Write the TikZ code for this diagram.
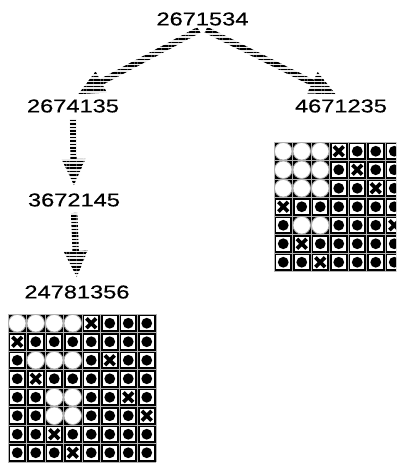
\documentclass[tikz,border=0pt]{standalone}
\usepackage{fontspec}
\setmainfont{Liberation Sans}
\newfontfamily\numfont[FakeBold=0.4]{Liberation Sans}
\usetikzlibrary{calc,patterns.meta}

\newcommand\wide[1]{\scalebox{1.27}[1]{#1}}
% striped arrow from node #1 to node #2
\newcommand\hatcharrow[2]{%
  \coordinate (hs) at ($(#1)!2pt!(#2)$);
  \coordinate (ht) at ($(#2)!3pt!(#1)$);
  \coordinate (hb) at ($(ht)!13pt!(hs)$);
  \fill[hatch] ($(hs)!1.6pt!90:(ht)$) -- ($(hb)!1.6pt!-90:(hs)$) -- ($(hb)!6pt!-90:(hs)$) -- (ht)
    -- ($(hb)!6pt!90:(hs)$) -- ($(hb)!1.6pt!90:(hs)$) -- ($(hs)!1.6pt!-90:(ht)$) -- cycle;}

\begin{document}
\begin{tikzpicture}[x=0.5pt, y=-0.5pt,
    num/.style={font=\numfont\fontsize{9.3}{11}\selectfont, inner sep=1pt},
    hatch/.style={fill=gray!15, postaction={pattern={Lines[angle=0, distance=1.7pt, line width=0.8pt]}, pattern color=black}},
    ring/.style={fill=white, draw=gray!70, line width=0.4pt},
    cross/.style={line width=1.8pt},
    gridline/.style={gray!60, line width=0.4pt}]

  \useasboundingbox (0,0) rectangle (396,464);
  \clip (0,0) rectangle (396,464);

  \node[num] (root)  at (202.5,19) {\wide{2671534}};
  \node[num] (left)  at (73,106)   {\wide{2674135}};
  \node[num] (right) at (341,106)  {\wide{4671235}};
  \node[num] (mid)   at (74,200)   {\wide{3672145}};
  \node[num] (leaf)  at (77,292)   {\wide{24781356}};

  \foreach \a/\b in {root.south/left.north, root.south/right.north, left.south/mid.north, mid.south/leaf.north}
    \hatcharrow{\a}{\b};

  % board under 24781356
  \begin{scope}[shift={(8,314)}]
    \foreach \row [count=\j from 0] in {{O,O,O,O,X,D,D,D}, {X,D,D,D,D,D,D,D},
        {D,O,O,O,D,X,D,D}, {D,X,D,D,D,D,D,D}, {D,D,O,O,D,D,X,D},
        {D,D,O,O,D,D,D,X}, {D,D,X,D,D,D,D,D}, {D,D,D,X,D,D,D,D}}
      \foreach \c [count=\i from 0] in \row {
        \coordinate (m) at ({\i*18.5+9.25},{\j*18.5+9.25});
        \fill (m) +(-9.25,-9.25) rectangle +(9.25,9.25);
        \if\c O \fill[ring] (m) circle[radius=4.4pt];
        \else \fill[white] (m) +(-6.8,-6.8) rectangle +(6.8,6.8);
          \if\c X \draw[cross] (m) +(-4.8,-4.8) -- +(4.8,4.8) (m) +(-4.8,4.8) -- +(4.8,-4.8);
          \else \fill (m) circle[radius=2.7pt]; \fi
        \fi
      }
    \foreach \k in {0,...,8}
      \draw[gridline] (\k*18.5,0) -- (\k*18.5,148) (0,\k*18.5) -- (148,\k*18.5);
  \end{scope}

  % board under 4671235
  \begin{scope}[shift={(274,142)}]
    \foreach \row [count=\j from 0] in {{O,O,O,X,D,D,D}, {O,O,O,D,X,D,D},
        {O,O,O,D,D,X,D}, {X,D,D,D,D,D,D}, {D,O,O,D,D,D,X},
        {D,X,D,D,D,D,D}, {D,D,X,D,D,D,D}}
      \foreach \c [count=\i from 0] in \row {
        \coordinate (m) at ({\i*18.5+9.25},{\j*18.5+9.25});
        \fill (m) +(-9.25,-9.25) rectangle +(9.25,9.25);
        \if\c O \fill[ring] (m) circle[radius=4.4pt];
        \else \fill[white] (m) +(-6.8,-6.8) rectangle +(6.8,6.8);
          \if\c X \draw[cross] (m) +(-4.8,-4.8) -- +(4.8,4.8) (m) +(-4.8,4.8) -- +(4.8,-4.8);
          \else \fill (m) circle[radius=2.7pt]; \fi
        \fi
      }
    \foreach \k in {0,...,7}
      \draw[gridline] (\k*18.5,0) -- (\k*18.5,129.5) (0,\k*18.5) -- (129.5,\k*18.5);
  \end{scope}
\end{tikzpicture}
\end{document}
